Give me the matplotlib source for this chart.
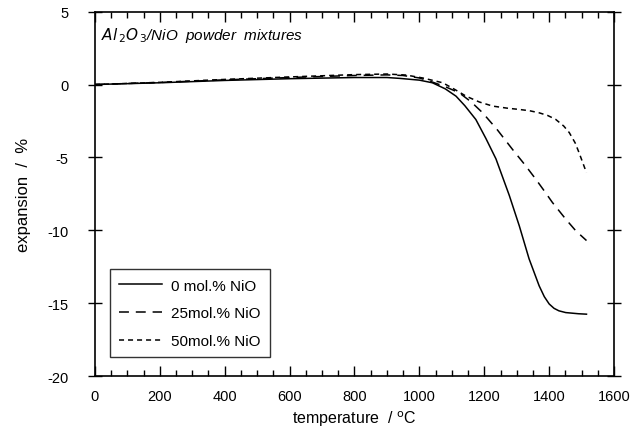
import numpy as np
import matplotlib.pyplot as plt
from matplotlib.ticker import MultipleLocator

plt.rcParams['font.family'] = ['Liberation Sans', 'DejaVu Sans']

# ── Data ──────────────────────────────────────────────────────────────────────
t_0 = [0, 200, 400, 600, 800, 900, 940, 1000, 1040, 1080, 1113, 1140, 1174,
       1205, 1236, 1277, 1308, 1338, 1369, 1385, 1400, 1415, 1430, 1451, 1490, 1515]
e_0 = [0.0, 0.12, 0.28, 0.40, 0.48, 0.48, 0.42, 0.30, 0.12, -0.30, -0.80, -1.45,
       -2.40, -3.70, -5.10, -7.60, -9.70, -11.95, -13.80, -14.55, -15.05, -15.35,
       -15.52, -15.64, -15.72, -15.75]

t_25 = [0, 200, 400, 600, 800, 900, 949, 1000, 1041, 1080, 1123, 1160, 1195,
        1240, 1287, 1325, 1359, 1385, 1410, 1451, 1482, 1515]
e_25 = [0.0, 0.14, 0.32, 0.48, 0.62, 0.66, 0.62, 0.45, 0.16, -0.15, -0.57, -1.20,
        -1.94, -3.10, -4.45, -5.50, -6.50, -7.30, -8.09, -9.23, -10.03, -10.70]

t_50 = [0, 200, 400, 600, 800, 900, 959, 1010, 1072, 1110, 1144, 1185, 1226,
        1270, 1308, 1340, 1369, 1395, 1420, 1445, 1462, 1480, 1492, 1515]
e_50 = [0.0, 0.15, 0.35, 0.52, 0.68, 0.72, 0.65, 0.45, 0.12, -0.35, -0.80, -1.20,
        -1.48, -1.62, -1.71, -1.80, -1.94, -2.12, -2.39, -2.85, -3.30, -4.00,
        -4.67, -6.05]

# ── Plot ──────────────────────────────────────────────────────────────────────
fig = plt.figure(figsize=(6.37, 4.35), dpi=100)
ax = fig.add_axes([0.149, 0.133, 0.815, 0.838])

ax.plot(t_0, e_0, color='black', lw=1.1, ls='-', label='0 mol.% NiO')
ax.plot(t_25, e_25, color='black', lw=1.1, ls=(0, (6.5, 4.5)), label='25mol.% NiO')
ax.plot(t_50, e_50, color='black', lw=1.1, ls=(0, (3.3, 2.6)), label='50mol.% NiO')

ax.set_xlim(0, 1600)
ax.set_ylim(-20, 5)
ax.xaxis.set_major_locator(MultipleLocator(200))
ax.xaxis.set_minor_locator(MultipleLocator(50))

ax.tick_params(axis='x', which='major', direction='in', length=7, width=1,
               top=True, labelsize=10.5, pad=9)
ax.tick_params(axis='x', which='minor', direction='in', length=4, width=1,
               top=True)
ax.tick_params(axis='y', which='major', direction='inout', length=10, width=1,
               right=True, labelsize=10.5, pad=14)
for s in ax.spines.values():
    s.set_linewidth(1.2)

ax.set_xticks(range(0, 1601, 200))
ax.set_xticklabels([str(v) for v in range(0, 1601, 200)])
ax.set_yticks([5, 0, -5, -10, -15, -20])
ax.set_yticklabels(['5', '0', '-5', '-10', '-15', '-20'])

ax.set_xlabel('temperature  / $^{\\mathrm{o}}$C', fontsize=11.5, labelpad=4)
ax.set_ylabel('expansion  /  %', fontsize=12, labelpad=12)

ax.text(0.012, 0.962, r'$Al_{\,2}O_{\,3}$/NiO  powder  mixtures',
        transform=ax.transAxes, fontsize=11, style='italic', va='top')

leg = ax.legend(loc='lower left', bbox_to_anchor=(0.029, 0.052), fontsize=11,
                frameon=True, fancybox=False, edgecolor='black',
                handlelength=2.8, handletextpad=0.6, labelspacing=0.9,
                borderpad=0.6, borderaxespad=0)
leg.get_frame().set_linewidth(1.0)

plt.savefig('out.png', dpi=100)
plt.close()
